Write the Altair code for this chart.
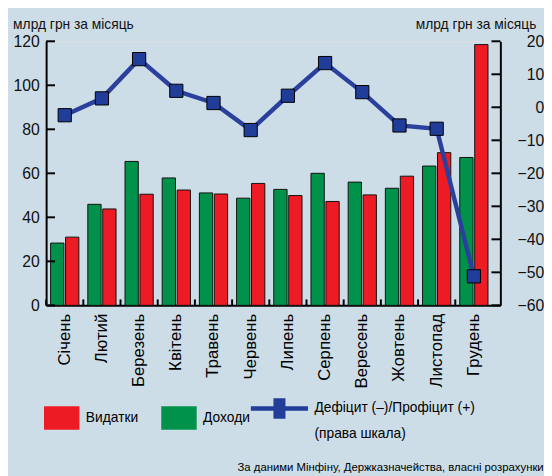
import altair as alt
import pandas as pd

months = ["Січень", "Лютий", "Березень", "Квітень", "Травень", "Червень",
          "Липень", "Серпень", "Вересень", "Жовтень", "Листопад", "Грудень"]
revenue = [28.3, 45.9, 65.4, 57.9, 51.1, 48.7, 52.7, 60.0, 56.0, 53.2, 63.3, 67.2]
expenditure = [31.0, 43.8, 50.5, 52.4, 50.6, 55.4, 49.9, 47.2, 50.2, 58.7, 69.4, 118.5]
balance = [-2.4, 2.7, 14.6, 5.0, 1.3, -6.9, 3.5, 13.4, 4.6, -5.5, -6.5, -51.2]
left_ticks = [0, 20, 40, 60, 80, 100, 120]
right_ticks = [-60, -50, -40, -30, -20, -10, 0, 10, 20]
series_names = ["Видатки", "Доходи", "Дефіцит (–)/Профіцит (+)"]
series_note = "(права шкала)"
series_colors = ["#ed1c24", "#00924a", "#223e99"]
unit_title = "млрд грн за місяць"
source_text = "За даними Мінфіну, Держказначейства, власні розрахунки"

W, H = 461, 268
FONT = "Liberation Sans"
BG = "#cddde8"

bars_df = pd.DataFrame({
    "month": months * 2,
    "series": [series_names[1]] * len(months) + [series_names[0]] * len(months),
    "value": revenue + expenditure,
})
bal_df = pd.DataFrame({"month": months, "balance": balance})

x_scale = alt.Scale(paddingInner=0, paddingOuter=0.106, align=0)
x_axis = alt.Axis(title=None, labelAngle=-90, labelFontSize=17, labelFont=FONT,
                  labelColor="black", ticks=False, tickSize=0, labelPadding=8,
                  domainWidth=2, domainColor="black", grid=False)


def xenc(**kw):
    return alt.X("month:N", sort=months, scale=x_scale, axis=x_axis, **kw)


left_scale = alt.Scale(domain=[0, 120])
left_axis = alt.Axis(title=unit_title, values=left_ticks, ticks=False, tickSize=0,
                     labelPadding=7, labelFontSize=16, labelFont=FONT, labelColor="#111",
                     domainWidth=2, domainColor="black", grid=False,
                     titleAngle=0, titleX=-34, titleY=-17, titleAlign="left",
                     titleBaseline="middle", titleFontSize=14, titleFont=FONT,
                     titleFontWeight="normal", titleColor="#111")
right_scale = alt.Scale(domain=[-60, 20])
right_axis = alt.Axis(orient="right", title=unit_title, values=right_ticks, ticks=False,
                      tickSize=0, labelPadding=44, labelAlign="right", labelFontSize=16,
                      labelFont=FONT, labelColor="#111", domainWidth=2, domainColor="black",
                      grid=False, titleAngle=0, titleX=36, titleY=-17, titleAlign="right",
                      titleBaseline="middle", titleFontSize=14, titleFont=FONT,
                      titleFontWeight="normal", titleColor="#111")

color_scale = alt.Scale(domain=series_names, range=series_colors)

rect_path = "M-0.24,-0.41L1,-0.41L1,0.41L-0.24,0.41Z"
line_path = ("M-1,-0.08L-0.21,-0.08L-0.21,-0.36L0.21,-0.36L0.21,-0.08L1,-0.08L1,0.08"
             "L0.21,0.08L0.21,0.36L-0.21,0.36L-0.21,0.08L-1,0.08Z")
label_expr = ("datum.label == '" + series_names[2] + "' ? ['" + series_names[2] + "', '"
              + series_note + "'] : datum.label")
leg = alt.Legend(orient="none", legendX=-24.7, legendY=343, direction="horizontal",
                 columns=3, title=None, symbolSize=3364, labelFontSize=14, labelFont=FONT,
                 labelColor="black", labelOffset=6, columnPadding=-3, padding=0,
                 symbolStrokeWidth=1, symbolStrokeColor="black", symbolOpacity=1,
                 labelExpr=label_expr, labelLimit=400)

bars = alt.Chart(bars_df).mark_bar(stroke="#111", strokeWidth=1).encode(
    x=xenc(),
    xOffset=alt.XOffset("series:N", sort=[series_names[1], series_names[0]],
                        scale=alt.Scale(paddingInner=0.11, paddingOuter=0.3)),
    y=alt.Y("value:Q", scale=left_scale, axis=left_axis),
    color=alt.Color("series:N", scale=color_scale, legend=leg),
)
left_tick_marks = alt.Chart(pd.DataFrame({"value": left_ticks})).mark_rule(
    color="black", strokeWidth=2).encode(
    y=alt.Y("value:Q", scale=left_scale, axis=left_axis),
    x=alt.value(0), x2=alt.value(9))
bottom_tick_marks = alt.Chart(pd.DataFrame({"month": months})).mark_rule(
    color="black", strokeWidth=2).encode(
    x=xenc(bandPosition=0), y=alt.value(H - 6), y2=alt.value(H))

line = alt.Chart(bal_df).mark_line(color="#2a409c", strokeWidth=4.5).encode(
    x=xenc(), y=alt.Y("balance:Q", scale=right_scale, axis=right_axis))
pts = alt.Chart(bal_df).mark_point(shape="square", filled=True, size=180, fill="#1f3d99",
                                   stroke="black", strokeWidth=1, opacity=1).encode(
    x=xenc(), y=alt.Y("balance:Q", scale=right_scale, axis=right_axis))
right_tick_marks = alt.Chart(pd.DataFrame({"balance": right_ticks})).mark_rule(
    color="black", strokeWidth=2).encode(
    y=alt.Y("balance:Q", scale=right_scale, axis=right_axis),
    x=alt.value(W - 9), x2=alt.value(W))

legend_layer = alt.Chart(pd.DataFrame({"series": series_names})).mark_point(
    filled=True, opacity=0, stroke="black", strokeWidth=1).encode(
    color=alt.Color("series:N", scale=color_scale, legend=leg),
    shape=alt.Shape("series:N", scale=alt.Scale(domain=series_names,
                                                range=[rect_path, rect_path, line_path]),
                    legend=leg))

left = alt.layer(bars, left_tick_marks, bottom_tick_marks)
right = alt.layer(line, pts, right_tick_marks)

chart = alt.layer(left, right, legend_layer).resolve_scale(y="independent").properties(
    width=W, height=H,
    autosize=alt.AutoSizeParams(type="none"),
    padding={"left": 38.7, "top": 30.3, "right": 44.3, "bottom": 169.4},
    title=alt.TitleParams(source_text, orient="bottom", anchor="end", frame="group",
                          fontSize=11.5, font=FONT, fontWeight="normal", color="black",
                          dx=44, offset=21),
    background=BG,
).configure_view(stroke=None).configure(style={"guide-label": {"lineHeight": 26}})

chart.save("out.html", embed_options={"renderer": "svg", "actions": False})
